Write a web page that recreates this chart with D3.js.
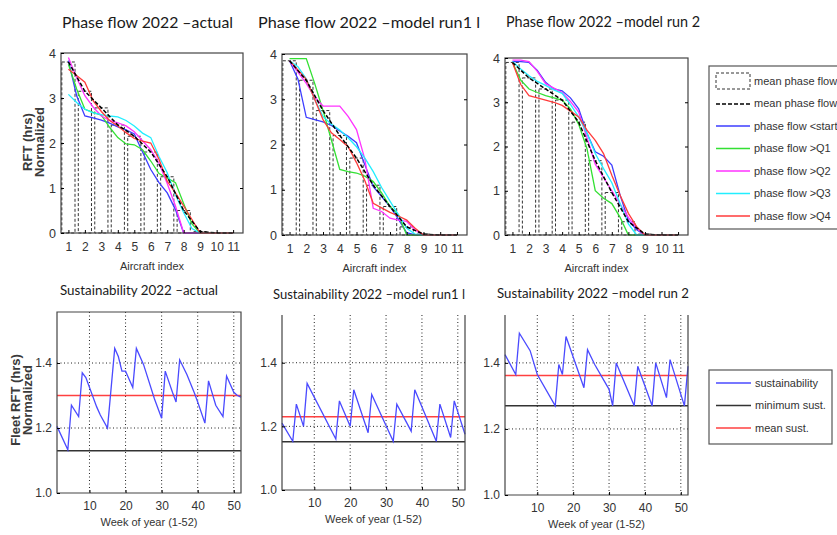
<!DOCTYPE html>
<html>
<head>
<meta charset="utf-8">
<script src="https://cdn.jsdelivr.net/npm/d3@7"></script>
<style>
body { margin: 0; background: #fff; }
svg text { font-family: "Liberation Sans", Arial, sans-serif; fill: #333; }
</style>
</head>
<body>
<div id="chart"></div>
<script>
var w = 837;
var h = 535;

// ---- phase flow data (RFT normalized vs aircraft index) ----
var phaseX = [1, 1.5, 2, 2.5, 3, 3.5, 4, 4.5, 5, 5.5, 6, 6.5, 7, 7.5, 8, 8.5, 9, 9.5, 10, 10.5, 11];
var aircraftIdx = [1, 2, 3, 4, 5, 6, 7, 8, 9, 10, 11];
var rftTicks = [0, 1, 2, 3, 4];
var seriesNames = ["phase flow <start", "phase flow >Q1", "phase flow >Q2", "phase flow >Q3", "phase flow >Q4"];
var seriesColors = ["#3c3cff", "#33e033", "#ff33ff", "#22eeff", "#ff3b3b"];

// actual
var meanActual = [3.8, 3.15, 2.78, 2.4, 2.15, 1.8, 1.25, 0.5, 0.03, 0, 0];
var startActual = [3.83, 3.05, 2.6, 2.56, 2.51, 2.44, 2.36, 2.29, 2.2, 1.8, 1.41, 1.12, 0.89, 0.52, 0, 0, 0, 0, 0, 0, 0];
var q1Actual = [3.75, 3.2, 2.75, 2.68, 2.62, 2.35, 2.12, 1.98, 1.96, 1.85, 1.6, 1.32, 1.22, 1.12, 0.65, 0.2, 0, 0, 0, 0, 0];
var q2Actual = [3.9, 3.45, 3.05, 2.8, 2.6, 2.5, 2.45, 2.38, 2.25, 2.05, 1.85, 1.55, 1.1, 0.6, 0, 0, 0, 0, 0, 0, 0];
var q3Actual = [3.08, 2.9, 2.75, 2.67, 2.63, 2.6, 2.58, 2.5, 2.38, 2.22, 2.12, 1.7, 1.34, 0.85, 0.45, 0.1, 0, 0, 0, 0, 0];
var q4Actual = [3.64, 3.5, 3.35, 2.94, 2.7, 2.5, 2.38, 2.23, 2.1, 2.04, 2.0, 1.64, 1.15, 0.89, 0.6, 0.3, 0, 0, 0, 0, 0];

// model run 1
var meanRun1 = [3.85, 3.42, 2.75, 2.2, 1.7, 1.1, 0.63, 0.18, 0.02, 0, 0];
var startRun1 = [3.85, 3.45, 2.6, 2.55, 2.5, 2.42, 2.3, 2.18, 2.04, 1.55, 1.07, 0.85, 0.63, 0.35, 0.05, 0, 0, 0, 0, 0, 0];
var q1Run1 = [3.9, 3.9, 3.9, 3.35, 2.75, 2.1, 1.45, 1.4, 1.37, 1.3, 1.18, 0.93, 0.63, 0.45, 0, 0, 0, 0, 0, 0, 0];
var q2Run1 = [3.85, 3.6, 3.35, 3.05, 2.85, 2.85, 2.85, 2.62, 2.33, 1.67, 0.59, 0.52, 0.37, 0.33, 0.3, 0.11, 0, 0, 0, 0, 0];
var q3Run1 = [3.85, 3.72, 3.45, 3.0, 2.62, 2.45, 2.32, 2.15, 1.95, 1.7, 1.4, 1.05, 0.75, 0.45, 0.15, 0.02, 0, 0, 0, 0, 0];
var q4Run1 = [3.85, 3.65, 3.44, 3.0, 2.55, 2.26, 2.11, 1.95, 1.6, 1.2, 0.7, 0.6, 0.5, 0.42, 0.33, 0.15, 0, 0, 0, 0, 0];

// model run 2
var meanRun2 = [3.9, 3.55, 3.3, 3.05, 2.55, 1.68, 0.96, 0.3, 0.02, 0, 0];
var startRun2 = [3.92, 3.92, 3.9, 3.72, 3.45, 3.3, 3.26, 3.1, 2.85, 2.3, 1.88, 1.78, 1.58, 0.9, 0.33, 0.12, 0, 0, 0, 0, 0];
var q1Run2 = [3.9, 3.5, 3.3, 3.22, 3.15, 3.1, 3.05, 2.85, 2.5, 1.95, 1.0, 0.83, 0.71, 0.4, 0, 0, 0, 0, 0, 0, 0];
var q2Run2 = [3.95, 3.95, 3.92, 3.7, 3.42, 3.32, 3.22, 3.02, 2.78, 2.2, 1.6, 1.3, 1.0, 0.7, 0.4, 0.15, 0, 0, 0, 0, 0];
var q3Run2 = [3.92, 3.75, 3.6, 3.47, 3.38, 3.28, 3.2, 2.95, 2.67, 2.3, 1.84, 1.5, 1.18, 0.71, 0.25, 0, 0, 0, 0, 0, 0];
var q4Run2 = [3.9, 3.4, 3.15, 3.1, 3.05, 3.0, 2.93, 2.8, 2.67, 2.37, 2.14, 1.84, 1.35, 0.9, 0.49, 0.19, 0, 0, 0, 0, 0];

// ---- sustainability data (fleet RFT normalized vs week) ----
var weekTicks = [10, 20, 30, 40, 50];
var sustTicks = [1.0, 1.2, 1.4];
var sustNames = ["sustainability", "minimum sust.", "mean sust."];

var weeksActual = [1, 4, 5, 7, 8, 9, 12, 13, 15, 17, 18, 19, 20, 22, 23, 25, 28, 30, 31, 33, 34, 35, 37, 39, 40, 42, 43, 45, 47, 48, 50, 51, 52];
var sustActual = [1.205, 1.133, 1.27, 1.235, 1.37, 1.355, 1.265, 1.24, 1.2, 1.445, 1.42, 1.375, 1.375, 1.325, 1.445, 1.395, 1.29, 1.23, 1.375, 1.31, 1.28, 1.41, 1.365, 1.31, 1.28, 1.215, 1.345, 1.27, 1.235, 1.36, 1.31, 1.3, 1.295];
var minActual = 1.13, avgActual = 1.30;

var weeksRun1 = [1, 4, 5, 7, 8, 16, 17, 20, 21, 25, 26, 32, 33, 37, 38, 44, 45, 48, 49, 52];
var sustRun1 = [1.21, 1.153, 1.27, 1.2, 1.335, 1.16, 1.28, 1.2, 1.315, 1.18, 1.3, 1.153, 1.27, 1.185, 1.315, 1.153, 1.27, 1.165, 1.28, 1.175];
var minRun1 = 1.152, avgRun1 = 1.23;

var weeksRun2 = [1, 4, 5, 8, 10, 15, 16, 17, 18, 23, 24, 26, 30, 31, 32, 37, 38, 42, 43, 46, 47, 51, 52];
var sustRun2 = [1.425, 1.365, 1.49, 1.437, 1.365, 1.27, 1.395, 1.365, 1.48, 1.325, 1.44, 1.395, 1.32, 1.27, 1.4, 1.27, 1.39, 1.27, 1.4, 1.295, 1.41, 1.27, 1.39];
var minRun2 = 1.27, avgRun2 = 1.362;

var svg = d3.select("#chart")
    .append("svg")
    .attr("width", w)
    .attr("height", h);

function title(txt, x, y, len, size) {
    svg.append("text")
        .attr("x", x)
        .attr("y", y)
        .attr("textLength", len)
        .attr("lengthAdjust", "spacingAndGlyphs")
        .style("font-family", "Lato, 'Open Sans', sans-serif")
        .style("font-size", size + "px")
        .style("fill", "#1a1a1a")
        .text(txt);
}

function phasePanel(p) {
    var x = d3.scaleLinear().domain([0.55, 11.6]).range([p.left, p.right]);
    var y = d3.scaleLinear().domain([0, 4]).range([p.bottom, p.top]);
    var g = svg.append("g");

    // mean phase flow as dashed bars
    g.selectAll("rect.bar")
        .data(p.mean.slice(0, 9))
        .enter().append("rect")
        .attr("x", function(d, i) { return x(aircraftIdx[i] - 0.4); })
        .attr("width", x(1.4) - x(0.6))
        .attr("y", function(d) { return y(d); })
        .attr("height", function(d) { return y(0) - y(d); })
        .attr("fill", "none")
        .attr("stroke", "#333")
        .attr("stroke-width", 1)
        .attr("stroke-dasharray", "3,2");

    var line = d3.line()
        .x(function(d, i) { return x(phaseX[i]); })
        .y(function(d) { return y(d); });

    p.series.forEach(function(s, k) {
        g.append("path")
            .attr("d", line(s))
            .attr("fill", "none")
            .attr("stroke", seriesColors[k])
            .attr("stroke-width", 1.3);
    });

    var meanLine = d3.line()
        .x(function(d, i) { return x(aircraftIdx[i]); })
        .y(function(d) { return y(d); });
    g.append("path")
        .attr("d", meanLine(p.mean))
        .attr("fill", "none")
        .attr("stroke", "#000")
        .attr("stroke-width", 1.5)
        .attr("stroke-dasharray", "4,2");

    // box
    g.append("rect")
        .attr("x", p.left).attr("y", p.top)
        .attr("width", p.right - p.left).attr("height", p.bottom - p.top)
        .attr("fill", "none").attr("stroke", "#444").attr("stroke-width", 1.2);

    var ax = g.append("g")
        .attr("transform", "translate(0," + p.bottom + ")")
        .call(d3.axisBottom(x).tickValues(aircraftIdx).tickSizeInner(-3).tickSizeOuter(0).tickPadding(9));
    ax.select(".domain").remove();
    ax.selectAll("text").style("font-size", "12px");

    var ay = g.append("g")
        .attr("transform", "translate(" + p.left + ",0)")
        .call(d3.axisLeft(y).tickValues(rftTicks).tickFormat(d3.format("d")).tickSizeInner(-3).tickSizeOuter(0).tickPadding(5));
    ay.select(".domain").remove();
    ay.selectAll("text").style("font-size", "12.5px");

    var ar = g.append("g")
        .attr("transform", "translate(" + p.right + ",0)")
        .call(d3.axisRight(y).tickValues([1, 2, 3]).tickSizeInner(-3).tickSizeOuter(0).tickFormat(""));
    ar.select(".domain").remove();

    g.append("text")
        .attr("x", (p.left + p.right) / 2)
        .attr("y", p.bottom + 37)
        .attr("text-anchor", "middle")
        .style("font-size", "11px")
        .text("Aircraft index");
}

function sustPanel(p) {
    var x = d3.scaleLinear().domain([1, 52]).range([p.left, p.right]);
    var y = d3.scaleLinear().domain([1, p.ymax]).range([p.bottom, p.top]);
    var g = svg.append("g");

    // dotted grid
    g.selectAll("line.gx")
        .data(weekTicks)
        .enter().append("line")
        .attr("x1", function(d) { return x(d); })
        .attr("x2", function(d) { return x(d); })
        .attr("y1", p.top).attr("y2", p.bottom)
        .attr("stroke", "#222").attr("stroke-width", 1)
        .attr("stroke-dasharray", "1,2.5");
    g.selectAll("line.gy")
        .data(sustTicks.slice(1))
        .enter().append("line")
        .attr("x1", p.left).attr("x2", p.right)
        .attr("y1", function(d) { return y(d); })
        .attr("y2", function(d) { return y(d); })
        .attr("stroke", "#222").attr("stroke-width", 1)
        .attr("stroke-dasharray", "1,2.5");

    g.append("line")
        .attr("x1", p.left).attr("x2", p.right)
        .attr("y1", y(p.min)).attr("y2", y(p.min))
        .attr("stroke", "#333").attr("stroke-width", 1.5);
    g.append("line")
        .attr("x1", p.left).attr("x2", p.right)
        .attr("y1", y(p.avg)).attr("y2", y(p.avg))
        .attr("stroke", "#ff4040").attr("stroke-width", 1.6);

    var line = d3.line()
        .x(function(d, i) { return x(p.weeks[i]); })
        .y(function(d) { return y(d); });
    g.append("path")
        .attr("d", line(p.values))
        .attr("fill", "none")
        .attr("stroke", "#4a4aff")
        .attr("stroke-width", 1.3);

    // frame (the model run panels have no top edge)
    var frame = "M" + p.left + "," + p.top + "V" + p.bottom + "H" + p.right + "V" + p.top;
    if (p.closed) frame += "Z";
    g.append("path")
        .attr("d", frame)
        .attr("fill", "none").attr("stroke", "#444").attr("stroke-width", 1.2);

    var ax = g.append("g")
        .attr("transform", "translate(0," + p.bottom + ")")
        .call(d3.axisBottom(x).tickValues(weekTicks).tickSizeInner(-3).tickSizeOuter(0).tickPadding(8));
    ax.select(".domain").remove();
    ax.selectAll("text").style("font-size", "12px");

    var ay = g.append("g")
        .attr("transform", "translate(" + p.left + ",0)")
        .call(d3.axisLeft(y).tickValues(sustTicks).tickFormat(d3.format(".1f")).tickSizeInner(-3).tickSizeOuter(0).tickPadding(5));
    ay.select(".domain").remove();
    ay.selectAll("text").style("font-size", "12px");

    g.append("text")
        .attr("x", (p.left + p.right) / 2)
        .attr("y", p.bottom + 33)
        .attr("text-anchor", "middle")
        .style("font-size", "11px")
        .text("Week of year (1-52)");
}

// titles
title("Phase flow 2022 \u2013actual", 62, 28, 171, 15);
title("Phase flow 2022 \u2013model run1 l", 258, 28, 222, 15);
title("Phase flow 2022 \u2013model run 2", 506, 27, 194, 15);
title("Sustainability 2022 \u2013actual", 60, 295, 158, 13);
title("Sustainability 2022 \u2013model run1 l", 273, 299, 192, 13);
title("Sustainability 2022 \u2013model run 2", 497, 298, 192, 13);

phasePanel({ left: 61, right: 243, top: 53, bottom: 233, mean: meanActual,
    series: [startActual, q1Actual, q2Actual, q3Actual, q4Actual] });
phasePanel({ left: 282, right: 467, top: 54, bottom: 235, mean: meanRun1,
    series: [startRun1, q1Run1, q2Run1, q3Run1, q4Run1] });
phasePanel({ left: 505, right: 688, top: 58, bottom: 235, mean: meanRun2,
    series: [startRun2, q1Run2, q2Run2, q3Run2, q4Run2] });

sustPanel({ left: 57, right: 241, top: 312, bottom: 493, ymax: 1.557, closed: true,
    weeks: weeksActual, values: sustActual, min: minActual, avg: avgActual });
sustPanel({ left: 282, right: 465, top: 315, bottom: 490, ymax: 1.55, closed: false,
    weeks: weeksRun1, values: sustRun1, min: minRun1, avg: avgRun1 });
sustPanel({ left: 505, right: 688, top: 315, bottom: 495, ymax: 1.545, closed: false,
    weeks: weeksRun2, values: sustRun2, min: minRun2, avg: avgRun2 });

// y axis labels
function ylabel(lines, cx, cy) {
    lines.forEach(function(t, i) {
        svg.append("text")
            .attr("transform", "translate(" + (cx + i * 12) + "," + cy + ") rotate(-90)")
            .attr("text-anchor", "middle")
            .attr("dy", "0.35em")
            .style("font-size", "13px")
            .style("font-weight", "bold")
            .style("fill", "#3a3a3a")
            .text(t);
    });
}
ylabel(["RFT (hrs)", "Normalized"], 27, 142);
ylabel(["Fleet RFT (hrs)", "Normalized"], 15, 400);

// legend for phase flow
var leg1 = svg.append("g");
leg1.append("rect")
    .attr("x", 709).attr("y", 66).attr("width", 140).attr("height", 163)
    .attr("fill", "#fff").attr("stroke", "#555").attr("stroke-width", 1.2);
leg1.append("rect")
    .attr("x", 716).attr("y", 73).attr("width", 34).attr("height", 16)
    .attr("fill", "none").attr("stroke", "#333").attr("stroke-dasharray", "3,2");
leg1.append("line")
    .attr("x1", 716).attr("x2", 750).attr("y1", 104).attr("y2", 104)
    .attr("stroke", "#000").attr("stroke-width", 1.5).attr("stroke-dasharray", "4,2");
var legItems = ["mean phase flow", "mean phase flow"].concat(seriesNames);
leg1.selectAll("line.s")
    .data(seriesNames)
    .enter().append("line")
    .attr("x1", 716).attr("x2", 750)
    .attr("y1", function(d, i) { return 126 + i * 22.5; })
    .attr("y2", function(d, i) { return 126 + i * 22.5; })
    .attr("stroke", function(d, i) { return seriesColors[i]; })
    .attr("stroke-width", 1.3);
leg1.selectAll("text")
    .data(legItems)
    .enter().append("text")
    .attr("x", 754)
    .attr("y", function(d, i) { return 81 + i * 22.5; })
    .attr("dy", "0.35em")
    .style("font-size", "11px")
    .text(function(d) { return d; });

// legend for sustainability
var leg2 = svg.append("g");
leg2.append("rect")
    .attr("x", 709).attr("y", 370).attr("width", 123).attr("height", 74)
    .attr("fill", "#fff").attr("stroke", "#555").attr("stroke-width", 1.2);
var sustColors = ["#4a4aff", "#333", "#ff4040"];
leg2.selectAll("line")
    .data(sustNames)
    .enter().append("line")
    .attr("x1", 716).attr("x2", 751)
    .attr("y1", function(d, i) { return 383 + i * 22.5; })
    .attr("y2", function(d, i) { return 383 + i * 22.5; })
    .attr("stroke", function(d, i) { return sustColors[i]; })
    .attr("stroke-width", 1.3);
leg2.selectAll("text")
    .data(sustNames)
    .enter().append("text")
    .attr("x", 755)
    .attr("y", function(d, i) { return 383 + i * 22.5; })
    .attr("dy", "0.35em")
    .style("font-size", "11px")
    .text(function(d) { return d; });
</script>
</body>
</html>
